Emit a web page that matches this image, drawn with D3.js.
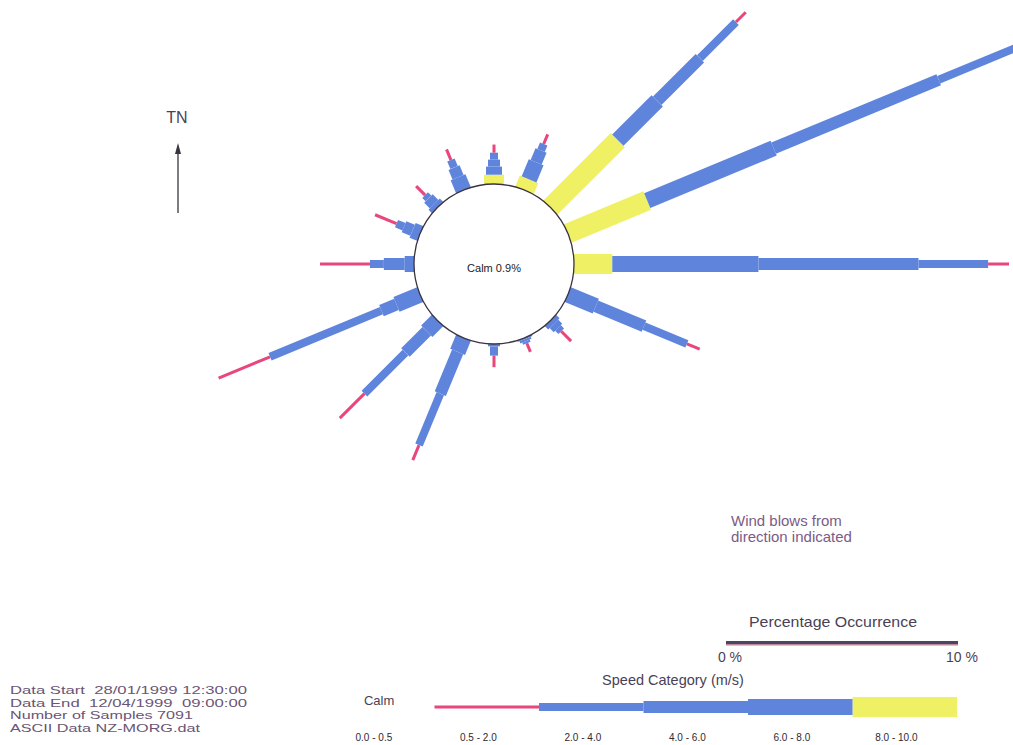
<!DOCTYPE html>
<html>
<head>
<meta charset="utf-8">
<script src="https://cdn.jsdelivr.net/npm/d3@7"></script>
<style>
  body { margin: 0; background: #fff; }
  svg { display: block; font-family: "Liberation Sans", Arial, sans-serif; }
  text { white-space: pre; }
</style>
</head>
<body>
<div id="chart"></div>
<script>
// ---- data (percentage occurrence per direction) ----
const directions = ["N", "NNE", "NE", "ENE", "E", "ESE", "SE", "SSE",
                    "S", "SSW", "SW", "WSW", "W", "WNW", "NW", "NNW"];

// stacked from the calm circle outwards: fastest first
const pct8to10 = [0.4, 0.5, 4.1, 3.7, 1.65, 0, 0, 0, 0, 0, 0, 0, 0, 0, 0, 0];
const pct6to8  = [0.35, 0.8, 2.4, 5.9, 6.3, 1.3, 0.2, 0.05, 0, 0.65, 0.65, 1.1, 0.4, 0.35, 0.2, 0.6];
const pct4to6  = [0.3, 0.55, 2.6, 7.7, 6.9, 2.25, 0.25, 0.1, 0.1, 1.95, 1.3, 0.7, 0.9, 0.4, 0.35, 0.45];
const pct2to4  = [0.3, 0.3, 2.2, 4.2, 3.0, 2.0, 0.2, 0.1, 0.4, 2.4, 2.5, 5.2, 0.6, 0.35, 0.2, 0.35];
const pct05to2 = [0.35, 0.45, 0.6, 0.8, 0.9, 0.6, 0.6, 0.4, 0.5, 0.7, 1.5, 2.4, 2.15, 1.0, 0.55, 0.5];

const calmPct = 0.9;

const legendLabels = ["0.0 - 0.5", "0.5 - 2.0", "2.0 - 4.0", "4.0 - 6.0", "6.0 - 8.0", "8.0 - 10.0"];
const pctTicks = [0, 10];

const infoLines = [
  "Data Start  28/01/1999 12:30:00",
  "Data End  12/04/1999  09:00:00",
  "Number of Samples 7091",
  "ASCII Data NZ-MORG.dat"
];
const infoWidths = [237, 237, 183, 190];

// ---- styling ----
const width = 1013, height = 745;
const cx = 494, cy = 264, calmR = 80;
const pink = "#e8467c", blue = "#5f84dc", yellow = "#f0f064";
const textCol = "#4a3f55";

// series in stacking order with their look
const series = [
  { key: "8.0 - 10.0", values: pct8to10, color: yellow, w: 20 },
  { key: "6.0 - 8.0",  values: pct6to8,  color: blue,   w: 16 },
  { key: "4.0 - 6.0",  values: pct4to6,  color: blue,   w: 12 },
  { key: "2.0 - 4.0",  values: pct2to4,  color: blue,   w: 8 },
  { key: "0.5 - 2.0",  values: pct05to2, color: pink,   w: 3 }
];

const svg = d3.select("#chart")
  .append("svg")
  .attr("width", width)
  .attr("height", height)
  .style("background", "white");

// percent -> pixels (same scale used for the rose and the legend bar)
const r = d3.scaleLinear().domain([0, 10]).range([0, 232]);
const angle = d3.scaleLinear().domain([0, directions.length]).range([0, 360]);

// ---- rose spokes ----
const rose = svg.append("g").attr("transform", `translate(${cx},${cy})`);

directions.forEach((dir, i) => {
  const spoke = rose.append("g")
    .attr("class", "spoke " + dir)
    .attr("transform", `rotate(${angle(i)})`);
  let cum = 0;
  series.forEach(s => {
    const v = s.values[i];
    if (v <= 0) return;
    const start = calmR + r(cum);
    const end = calmR + r(cum + v);
    const s0 = cum === 0 ? start - 4 : start;
    spoke.append("rect")
      .attr("x", -s.w / 2)
      .attr("y", -end)
      .attr("width", s.w)
      .attr("height", end - s0)
      .attr("fill", s.color);
    cum += v;
  });
});

// calm circle on top
rose.append("circle")
  .attr("r", calmR)
  .attr("fill", "white")
  .attr("stroke", "#3a3340")
  .attr("stroke-width", 1.3);

rose.append("text")
  .attr("x", 0)
  .attr("y", 8)
  .attr("text-anchor", "middle")
  .attr("font-size", "11px")
  .attr("fill", "#222")
  .text(`Calm ${calmPct}%`);

// ---- true north arrow ----
svg.append("line")
  .attr("x1", 178).attr("y1", 213)
  .attr("x2", 178).attr("y2", 150)
  .attr("stroke", "#3a3340")
  .attr("stroke-width", 1.3);

svg.append("path")
  .attr("d", "M178,143 L175,154 L181,154 Z")
  .attr("fill", "#3a3340");

svg.append("text")
  .attr("x", 177).attr("y", 123)
  .attr("text-anchor", "middle")
  .attr("font-size", "16px")
  .attr("fill", textCol)
  .text("TN");

// ---- note ----
svg.append("text")
  .attr("x", 731).attr("y", 526)
  .attr("font-size", "15px")
  .attr("fill", "#7b5c86")
  .selectAll("tspan")
  .data(["Wind blows from", "direction indicated"])
  .join("tspan")
  .attr("x", 731)
  .attr("dy", (d, i) => i === 0 ? 0 : 16)
  .text(d => d);

// ---- percentage legend ----
const pctX = d3.scaleLinear().domain([0, 10]).range([726, 726 + r(10)]);

svg.append("text")
  .attr("x", 833).attr("y", 627)
  .attr("text-anchor", "middle")
  .attr("font-size", "15px")
  .attr("textLength", 168)
  .attr("lengthAdjust", "spacingAndGlyphs")
  .attr("fill", textCol)
  .text("Percentage Occurrence");

svg.append("rect")
  .attr("x", pctX(0)).attr("y", 641)
  .attr("width", pctX(10) - pctX(0)).attr("height", 3.5)
  .attr("fill", "#4b4560");
svg.append("rect")
  .attr("x", pctX(0)).attr("y", 644.5)
  .attr("width", pctX(10) - pctX(0)).attr("height", 1)
  .attr("fill", "#d9708f");

svg.append("g")
  .selectAll("text")
  .data(pctTicks)
  .join("text")
  .attr("x", d => pctX(d) + 4)
  .attr("y", 662)
  .attr("text-anchor", "middle")
  .attr("font-size", "14px")
  .attr("fill", textCol)
  .text(d => `${d} %`);

// ---- speed category legend ----
const band = d3.scaleBand().domain(legendLabels).range([330, 957]);

svg.append("text")
  .attr("x", 673).attr("y", 685)
  .attr("text-anchor", "middle")
  .attr("font-size", "14.5px")
  .attr("fill", textCol)
  .text("Speed Category (m/s)");

svg.append("text")
  .attr("x", band(legendLabels[0]) + band.bandwidth() * 0.47)
  .attr("y", 705)
  .attr("text-anchor", "middle")
  .attr("font-size", "13px")
  .attr("fill", textCol)
  .text("Calm");

const legendY = 707;
series.forEach(s => {
  svg.append("rect")
    .attr("x", band(s.key))
    .attr("y", legendY - s.w / 2)
    .attr("width", band.bandwidth())
    .attr("height", s.w)
    .attr("fill", s.color);
});

svg.append("g")
  .selectAll("text")
  .data(legendLabels)
  .join("text")
  .attr("x", d => band(d) + band.bandwidth() * 0.42)
  .attr("y", 741)
  .attr("text-anchor", "middle")
  .attr("font-size", "10px")
  .attr("fill", "#2e2a33")
  .text(d => d);

// ---- data info block ----
svg.append("g")
  .selectAll("text")
  .data(infoLines)
  .join("text")
  .attr("x", 10)
  .attr("y", (d, i) => 694 + i * 12.6)
  .attr("font-size", "11px")
  .attr("textLength", (d, i) => infoWidths[i])
  .attr("lengthAdjust", "spacingAndGlyphs")
  .attr("fill", "#6b5575")
  .text(d => d);
</script>
</body>
</html>
